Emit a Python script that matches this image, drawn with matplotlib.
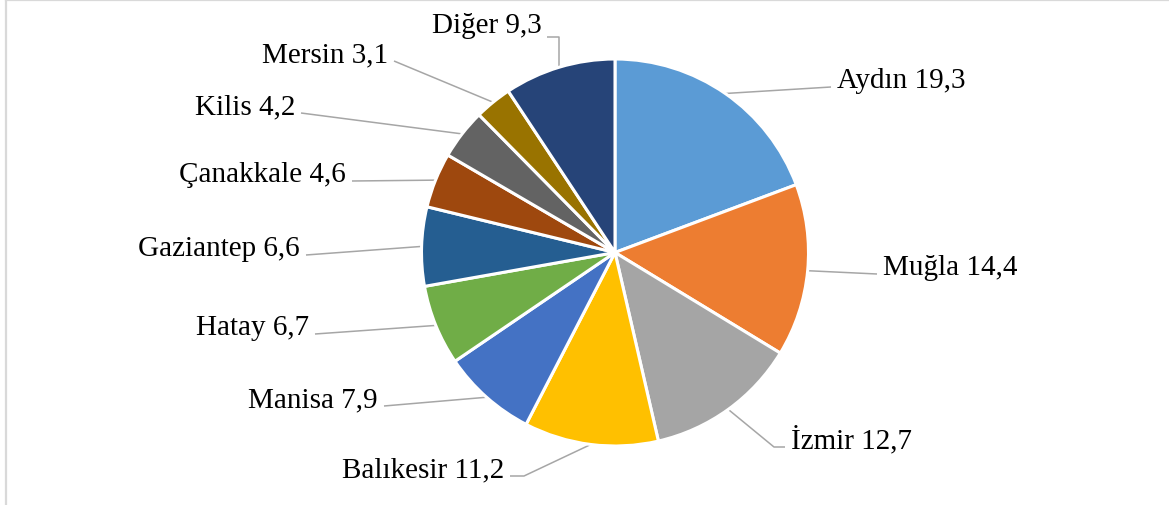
import numpy as np
import matplotlib
matplotlib.use("Agg")
import matplotlib.pyplot as plt
from matplotlib.lines import Line2D

# data
regions = ["Aydın", "Muğla", "İzmir", "Balıkesir", "Manisa", "Hatay",
           "Gaziantep", "Çanakkale", "Kilis", "Mersin", "Diğer"]
shares = [19.3, 14.4, 12.7, 11.2, 7.9, 6.7, 6.6, 4.6, 4.2, 3.1, 9.3]
colors = ["#5B9BD5", "#ED7D31", "#A5A5A5", "#FFC000", "#4472C4", "#70AD47",
          "#255E91", "#9E480E", "#636363", "#997300", "#264478"]

# label layout (image pixels: text edge x, baseline y, alignment, elbow)
label_x = [837, 883, 791, 504, 378, 309, 300, 346, 295, 388, 542]
label_y = [88, 275, 448, 477, 407, 335, 256, 182, 114, 62, 33]
label_ha = ["left", "left", "left", "right", "right", "right",
            "right", "right", "right", "right", "right"]
elbow = [0, 0, 11, 14, 0, 0, 0, 0, 0, 0, "v"]

W, H = 1169, 506
center = (615, H - 253.5)
radius = 193.5

plt.rcParams["font.family"] = ["Liberation Serif", "DejaVu Serif"]

fig = plt.figure(figsize=(W / 100, H / 100), dpi=100)
ax = fig.add_axes([0, 0, 1, 1])

wedges, _ = ax.pie(shares, colors=colors, startangle=90, counterclock=False,
                   center=center, radius=radius,
                   wedgeprops=dict(edgecolor="white", linewidth=2.2))
ax.set_xlim(0, W)
ax.set_ylim(0, H)
ax.set_aspect("equal")
ax.axis("off")

line_col = "#A6A6A6"
for w, name, v, tx, ty, ha, el in zip(wedges, regions, shares, label_x,
                                      label_y, label_ha, elbow):
    mid = np.deg2rad((w.theta1 + w.theta2) / 2)
    ex = center[0] + radius * np.cos(mid)
    ey = center[1] + radius * np.sin(mid)
    by = H - ty
    text = f"{name} {v:.1f}".replace(".", ",")
    ax.text(tx, by, text, ha=ha, va="baseline", fontsize=21, color="#000000")
    if el == "v":
        ax_ = tx + 5
        ay = by - 5
        xs = [ax_, ex, ex]
        ys = [ay, ay, ey]
    else:
        ax_ = tx - 6 if ha == "left" else tx + 6
        step = -el if ha == "left" else el
        xs = [ax_, ax_ + step, ex]
        ys = [by, by, ey]
    ax.plot(xs, ys, color=line_col, lw=1.1, solid_capstyle="butt", zorder=0)

# chart area border (left and top visible)
fig.add_artist(Line2D([6 / W, 6 / W], [0, 1], color="#D9D9D9", lw=1.6,
                      transform=fig.transFigure))
fig.add_artist(Line2D([6 / W, 1], [1 - 1 / H, 1 - 1 / H], color="#D9D9D9",
                      lw=1.6, transform=fig.transFigure))

fig.savefig("out.png", dpi=100, facecolor="white")
